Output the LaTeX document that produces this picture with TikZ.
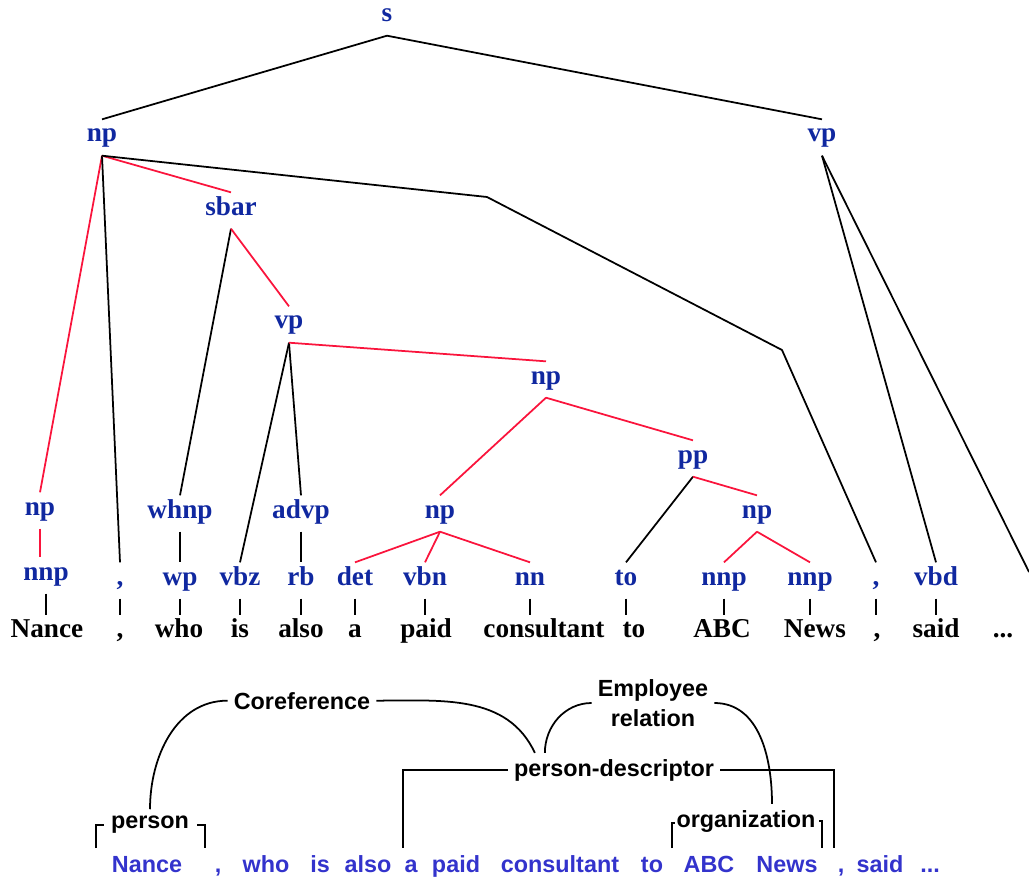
\documentclass[tikz,border=0pt]{standalone}
\usepackage{fontspec}
\setmainfont{Liberation Serif}
\setsansfont{Liberation Sans}
\usetikzlibrary{calc}
\definecolor{tagblue}{RGB}{16,40,160}
\definecolor{wordblue}{RGB}{51,51,204}
\definecolor{linkred}{RGB}{250,20,60}

\begin{document}
\begin{tikzpicture}[x=0.02cm, y=-0.02cm, line width=1pt,
  tag/.style={anchor=base, text=tagblue, font=\bfseries\fontsize{15.5}{17}\selectfont, text height=9.6pt, text depth=4.5pt, inner xsep=1pt, inner ysep=2.8pt},
  word/.style={anchor=base, font=\bfseries\fontsize{15.5}{17}\selectfont, text height=10.3pt, text depth=3pt, inner xsep=1pt, inner ysep=2pt},
  bword/.style={anchor=base, text=wordblue, font=\sffamily\bfseries\fontsize{13.3}{15}\selectfont, inner sep=0pt},
  rel/.style={font=\sffamily\bfseries\fontsize{13.3}{17}\selectfont, inner sep=3pt},
  redge/.style={draw=linkred}]
\useasboundingbox (0,0) rectangle (1029,882);

\node[tag] (T0N0) at (387,22) {s};
\node[tag] (T1N0) at (102,142) {np};
\node[tag] (T1N1) at (822,142) {vp};
\node[tag] (T2N0) at (231,215) {sbar};
\node[tag] (T3N0) at (289,329) {vp};
\node[tag] (T4N0) at (546,384) {np};
\node[tag] (T5N0) at (693,463) {pp};
\node[tag] (T6N0) at (40,515) {np};
\node[tag] (T6N1) at (180,518) {whnp};
\node[tag] (T6N2) at (301,518) {advp};
\node[tag] (T6N3) at (440,518) {np};
\node[tag] (T6N4) at (757,518) {np};
\node[tag] (T7N0) at (46,580) {nnp};
\node[tag] (T7N1) at (120,585) {,};
\node[tag] (T7N2) at (180,585) {wp};
\node[tag] (T7N3) at (240,585) {vbz};
\node[tag] (T7N4) at (301,585) {rb};
\node[tag] (T7N5) at (355,585) {det};
\node[tag] (T7N6) at (425,585) {vbn};
\node[tag] (T7N7) at (530,585) {nn};
\node[tag] (T7N8) at (626,585) {to};
\node[tag] (T7N9) at (724,585) {nnp};
\node[tag] (T7N10) at (810,585) {nnp};
\node[tag] (T7N11) at (876,585) {,};
\node[tag] (T7N12) at (936,585) {vbd};

\node[word] (W0N0) at (47,637) {Nance};
\node[word] (W0N1) at (120,637) {,};
\node[word] (W0N2) at (179,637) {who};
\node[word] (W0N3) at (240,637) {is};
\node[word] (W0N4) at (301,637) {also};
\node[word] (W0N5) at (355,637) {a};
\node[word] (W0N6) at (426,637) {paid};
\node[word] (W0N7) at (544,637) {consultant};
\node[word] (W0N8) at (634,637) {to};
\node[word] (W0N9) at (722,637) {ABC};
\node[word] (W0N10) at (815,637) {News};
\node[word] (W0N11) at (877,637) {,};
\node[word] (W0N12) at (936,637) {said};
\node[word] (W0N13) at (1003,637) {...};

\coordinate (K0) at (487,197);
\coordinate (K1) at (782,350);
\coordinate (K2) at (1029,572);

\draw (T0N0.south) -- (T1N0.north);
\draw (T0N0.south) -- (T1N1.north);
\draw[redge] (T1N0.south) -- (T6N0.north);
\draw (T1N0.south) -- (T7N1.north);
\draw[redge] (T1N0.south) -- (T2N0.north);
\draw (T1N0.south) -- (K0) -- (K1) -- (T7N11.north);
\draw (T1N1.south) -- (T7N12.north);
\draw (T1N1.south) -- (K2);
\draw (T2N0.south) -- (T6N1.north);
\draw[redge] (T2N0.south) -- (T3N0.north);
\draw (T3N0.south) -- (T7N3.north);
\draw (T3N0.south) -- (T6N2.north);
\draw[redge] (T3N0.south) -- (T4N0.north);
\draw[redge] (T4N0.south) -- (T6N3.north);
\draw[redge] (T4N0.south) -- (T5N0.north);
\draw (T5N0.south) -- (T7N8.north);
\draw[redge] (T5N0.south) -- (T6N4.north);
\draw[redge] (T6N0.south) -- (T6N0.south |- T7N0.north);
\draw (T6N1.south) -- (T7N2.north);
\draw (T6N2.south) -- (T7N4.north);
\draw[redge] (T6N3.south) -- (T7N5.north);
\draw[redge] (T6N3.south) -- (T7N6.north);
\draw[redge] (T6N3.south) -- (T7N7.north);
\draw[redge] (T6N4.south) -- (T7N9.north);
\draw[redge] (T6N4.south) -- (T7N10.north);

\draw (T7N0.south) -- (T7N0.south |- W0N0.north);
\draw (T7N1.south) -- (T7N1.south |- W0N1.north);
\draw (T7N2.south) -- (T7N2.south |- W0N2.north);
\draw (T7N3.south) -- (T7N3.south |- W0N3.north);
\draw (T7N4.south) -- (T7N4.south |- W0N4.north);
\draw (T7N5.south) -- (T7N5.south |- W0N5.north);
\draw (T7N6.south) -- (T7N6.south |- W0N6.north);
\draw (T7N7.south) -- (T7N7.south |- W0N7.north);
\draw (T7N8.south) -- (T7N8.south |- W0N8.north);
\draw (T7N9.south) -- (T7N9.south |- W0N9.north);
\draw (T7N10.south) -- (T7N10.south |- W0N10.north);
\draw (T7N11.south) -- (T7N11.south |- W0N11.north);
\draw (T7N12.south) -- (T7N12.south |- W0N12.north);

\node[bword] (B0N0) at (147,872) {Nance};
\node[bword] (B0N1) at (218,872) {,};
\node[bword] (B0N2) at (266,872) {who};
\node[bword] (B0N3) at (320,872) {is};
\node[bword] (B0N4) at (368,872) {also};
\node[bword] (B0N5) at (411,872) {a};
\node[bword] (B0N6) at (456,872) {paid};
\node[bword] (B0N7) at (560,872) {consultant};
\node[bword] (B0N8) at (652,872) {to};
\node[bword] (B0N9) at (709,872) {ABC};
\node[bword] (B0N10) at (787,872) {News};
\node[bword] (B0N11) at (841,872) {,};
\node[bword] (B0N12) at (880,872) {said};
\node[bword] (B0N13) at (930,872) {...};

\node[rel, anchor=base] (R0N0) at (150,828) {person};
\node[rel, anchor=base] (R0N1) at (302,709) {Coreference};
\node[rel, anchor=base] (R0N2) at (614,776) {person-descriptor};
\node[rel, align=center] (R0N3) at (653,703) {Employee\\relation};
\node[rel, anchor=base] (R0N4) at (746,827) {organization};

\coordinate (C0) at (96,848);
\coordinate (C1) at (104,825);
\coordinate (C2) at (197,825);
\coordinate (C3) at (205,848);
\coordinate (C4) at (403,848);
\coordinate (C5) at (834,848);
\coordinate (C6) at (672,848);
\coordinate (C7) at (675,823);
\coordinate (C8) at (819,821);
\coordinate (C9) at (822,848);

\draw (C0) |- (C1);
\draw (C2) -| (C3);
\draw (R0N2.west) -| (C4);
\draw (R0N2.east) -| (C5);
\draw (C6) |- (C7);
\draw (C8) -| (C9);

\draw (R0N0.north) to[out=90,in=180] (R0N1.west);
\draw (R0N1.east) to[out=0,in=115] ($(R0N2.north west)+(27,0)$);
\draw ($(R0N2.north west)+(37,0)$) to[out=90,in=180] (R0N3.west);
\draw (R0N3.east) to[out=0,in=90] ($(R0N4.north)+(26,0)$);
\end{tikzpicture}
\end{document}
